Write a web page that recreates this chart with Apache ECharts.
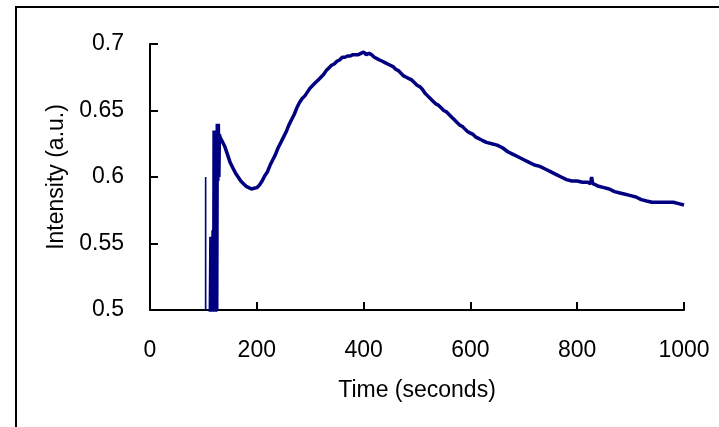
<!DOCTYPE html>
<html>
<head>
<meta charset="utf-8">
<style>html,body{margin:0;padding:0;background:#fff}#c{width:719px;height:427px}</style>
<script src="https://cdn.jsdelivr.net/npm/echarts@6/dist/echarts.min.js"></script>
</head>
<body>
<div id="c"></div>
<script>
// Isolated early spike
var spikeTimes = [104, 104.2, 104.4];
var spikeValues = [0.3, 0.6, 0.3];

// Main intensity trace (seconds, a.u.)
var times = [112,113,114,115,116,117,118,119,120,121,122,123,124,125,126,127,128,129,130,131,135,140,145,150,155,160,165,170,175,180,185,190,195,200,205,210,215,220,225,230,235,240,245,250,255,260,265,270,275,280,285,290,295,300,305,310,315,320,325,330,335,340,345,350,355,360,365,370,375,380,385,390,395,400,405,410,415,420,425,430,435,440,445,450,455,460,465,470,475,480,485,490,495,500,505,510,515,520,525,530,535,540,545,550,555,560,565,570,575,580,585,590,595,600,605,610,615,620,625,630,640,650,660,670,680,690,700,710,720,730,740,750,760,770,780,790,800,810,820,825,827,829,835,840,850,860,870,880,890,900,910,920,930,940,950,960,970,980,990,1000];
var intensity = [0.45,0.45,0.555,0.45,0.555,0.45,0.56,0.45,0.635,0.45,0.635,0.47,0.63,0.5,0.64,0.597,0.64,0.6,0.632,0.63,0.627,0.623,0.617,0.611,0.607,0.603,0.6,0.597,0.595,0.593,0.592,0.591,0.5915,0.592,0.594,0.597,0.601,0.604,0.609,0.613,0.617,0.622,0.626,0.63,0.634,0.639,0.643,0.647,0.652,0.656,0.659,0.661,0.664,0.667,0.669,0.671,0.673,0.675,0.677,0.68,0.682,0.684,0.685,0.687,0.688,0.69,0.69,0.691,0.691,0.692,0.692,0.692,0.693,0.694,0.692,0.693,0.692,0.69,0.689,0.688,0.687,0.686,0.685,0.684,0.683,0.681,0.68,0.678,0.676,0.675,0.674,0.673,0.671,0.669,0.668,0.666,0.663,0.661,0.659,0.657,0.655,0.654,0.652,0.65,0.649,0.647,0.645,0.643,0.641,0.639,0.638,0.636,0.634,0.633,0.632,0.63,0.629,0.628,0.627,0.626,0.625,0.624,0.622,0.619,0.617,0.615,0.613,0.611,0.609,0.608,0.606,0.604,0.602,0.6,0.598,0.597,0.597,0.596,0.596,0.595,0.6,0.595,0.594,0.593,0.592,0.591,0.589,0.588,0.587,0.586,0.585,0.583,0.582,0.581,0.581,0.581,0.581,0.581,0.58,0.579];

var xTicks = [0, 200, 400, 600, 800, 1000];
var yTicks = ['0.5', '0.55', '0.6', '0.65', '0.7'];

function pairs(a, b) { return a.map(function (t, i) { return [t, b[i]]; }); }

var font = '"Liberation Sans", Arial, sans-serif';
var fs = 23;
var chart = echarts.init(document.getElementById('c'), null, {renderer: 'canvas'});
chart.setOption({
  animation: false,
  backgroundColor: '#fff',
  graphic: [{
    type: 'rect', silent: true,
    shape: {x: 16, y: 7, width: 720, height: 440},
    style: {fill: 'none', stroke: '#000', lineWidth: 2}
  }],
  grid: {left: 150, width: 534, top: 44, height: 266, containLabel: false},
  xAxis: {
    type: 'value', min: 0, max: 1000, interval: 200,
    name: 'Time (seconds)', nameLocation: 'middle', nameGap: 69,
    nameTextStyle: {fontFamily: font, fontSize: fs, color: '#000'},
    axisLine: {show: true, onZero: false, lineStyle: {color: '#000', width: 2}},
    axisTick: {show: true, inside: true, length: 8, lineStyle: {color: '#000', width: 2}},
    axisLabel: {fontFamily: font, fontSize: fs, color: '#000', margin: 29,
      formatter: function (v) { return String(v); }},
    splitLine: {show: false}
  },
  yAxis: {
    type: 'value', min: 0.5, max: 0.7, interval: 0.05,
    name: 'Intensity (a.u.)', nameLocation: 'middle', nameGap: 82, nameRotate: 90,
    nameTextStyle: {fontFamily: font, fontSize: fs, color: '#000'},
    axisLine: {show: true, onZero: false, lineStyle: {color: '#000', width: 2}},
    axisTick: {show: true, inside: true, length: 8, lineStyle: {color: '#000', width: 2}},
    axisLabel: {fontFamily: font, fontSize: fs, color: '#000', margin: 26, padding: [8, 0, 0, 0],
      formatter: function (v) { return String(+v.toFixed(2)); }},
    splitLine: {show: false}
  },
  series: [{
    type: 'line', data: pairs(spikeTimes, spikeValues), showSymbol: false, clip: true,
    lineStyle: {color: '#000080', width: 1.6}
  }, {
    type: 'line', data: pairs(times, intensity), showSymbol: false, clip: true,
    lineStyle: {color: '#000080', width: 3.5}
  }]
});
</script>
</body>
</html>
